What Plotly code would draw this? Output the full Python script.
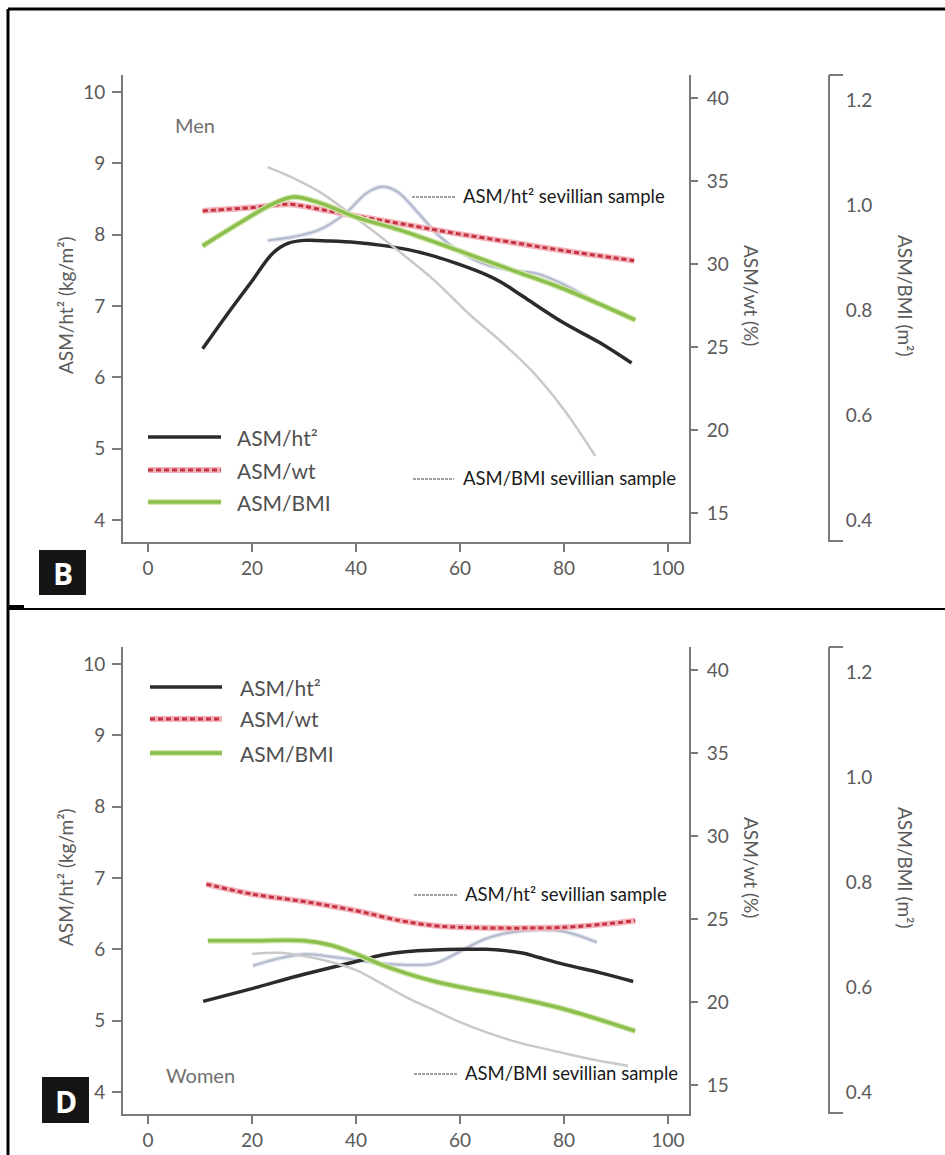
import plotly.graph_objects as go

# ---------------- DATA ----------------
# Men (panel B)
men_age_ht2 = [10.5, 15, 20, 24, 27, 30, 35, 40, 45, 50, 55, 60, 65, 68, 72, 80, 87, 93]
men_ht2 = [6.40, 6.86, 7.35, 7.74, 7.88, 7.92, 7.91, 7.89, 7.85, 7.79, 7.70, 7.58, 7.44, 7.33, 7.14, 6.76, 6.48, 6.20]
men_age_wt = [10.5, 20, 27, 33, 40, 50, 60, 70, 80, 93.5]
men_wt = [33.2, 33.4, 33.6, 33.3, 32.9, 32.35, 31.8, 31.3, 30.8, 30.2]
men_age_bmi = [10.5, 18, 24, 28, 33, 40, 48.5, 60, 70, 80, 93.7]
men_bmi = [0.922, 0.968, 1.002, 1.015, 1.004, 0.977, 0.952, 0.912, 0.876, 0.840, 0.781]
men_age_sev_ht2 = [23, 28, 33, 38, 42, 45, 48, 52, 56, 60, 65, 70, 75, 80, 85.5]
men_sev_ht2 = [7.92, 7.97, 8.07, 8.30, 8.58, 8.67, 8.60, 8.30, 7.98, 7.76, 7.58, 7.50, 7.45, 7.30, 7.08]
men_age_sev_bmi = [23, 28, 33, 40, 48, 55, 62, 68, 74, 80, 86]
men_sev_bmi = [1.072, 1.051, 1.025, 0.975, 0.914, 0.857, 0.790, 0.739, 0.682, 0.610, 0.522]

# Women (panel D)
women_age_ht2 = [10.6, 20, 30, 40, 45, 50, 55, 60, 65, 72, 75, 80, 87, 93.3]
women_ht2 = [5.27, 5.45, 5.65, 5.83, 5.92, 5.97, 5.99, 6.00, 6.00, 5.95, 5.89, 5.79, 5.67, 5.55]
women_age_wt = [11.2, 20, 30, 40, 48.5, 55, 60, 70, 80, 88, 93.7]
women_wt = [27.1, 26.5, 26.05, 25.5, 24.9, 24.6, 24.5, 24.45, 24.5, 24.7, 24.9]
women_age_bmi = [11.5, 20, 30, 35, 40, 45, 50, 55, 60, 70, 80, 93.7]
women_bmi = [0.688, 0.688, 0.688, 0.680, 0.663, 0.642, 0.625, 0.611, 0.600, 0.581, 0.558, 0.516]
women_age_sev_ht2 = [20.2, 25, 30, 35, 40, 45, 50, 55, 60, 65, 70, 75, 80, 86.3]
women_sev_ht2 = [5.77, 5.87, 5.93, 5.90, 5.85, 5.80, 5.78, 5.80, 5.97, 6.15, 6.24, 6.27, 6.25, 6.10]
women_age_sev_bmi = [20, 25, 30, 35, 40, 45, 50, 55, 60, 65, 71, 80, 86, 92.3]
women_sev_bmi = [0.663, 0.665, 0.659, 0.648, 0.632, 0.606, 0.579, 0.556, 0.533, 0.514, 0.495, 0.474, 0.461, 0.450]

x_ticks = [0, 20, 40, 60, 80, 100]
ht2_ticks = [4, 5, 6, 7, 8, 9, 10]
wt_ticks = [15, 20, 25, 30, 35, 40]
bmi_ticks = [0.4, 0.6, 0.8, 1.0, 1.2]
bmi_ticklabels = ["0.4", "0.6", "0.8", "1.0", "1.2"]

# ---------------- LAYOUT HELPERS ----------------
W, H = 945, 1155
def px(x):
    return x / W
def py(y):
    return 1 - y / H

FONT = "Lato"
AX = "#7a7a7a"
TXT = "#5a5a5a"

BLACK = "#2b2b2b"
RED_BG = "#f4b3ba"
RED_FG = "#c4323f"
GREEN = "#8cbf4d"
GREEN_BG = "#d3e8b0"
LGRAY = "#c9c9c9"
BGRAY = "#b3b9cc"
BGRAY_BG = "#e0e3ec"

fig = go.Figure()

panels = [
    dict(x="x", yl="y", yr="y2", yb="y3",
         ht2=(men_age_ht2, men_ht2), wt=(men_age_wt, men_wt), bmi=(men_age_bmi, men_bmi),
         sh=(men_age_sev_ht2, men_sev_ht2), sb=(men_age_sev_bmi, men_sev_bmi)),
    dict(x="x2", yl="y4", yr="y5", yb="y6",
         ht2=(women_age_ht2, women_ht2), wt=(women_age_wt, women_wt), bmi=(women_age_bmi, women_bmi),
         sh=(women_age_sev_ht2, women_sev_ht2), sb=(women_age_sev_bmi, women_sev_bmi)),
]

def add_line(xv, yv, xa, ya, color, width, dash="solid"):
    fig.add_trace(go.Scatter(x=xv, y=yv, xaxis=xa, yaxis=ya, mode="lines",
                             line=dict(color=color, width=width, dash=dash, shape="spline", smoothing=1.0),
                             showlegend=False, hoverinfo="skip"))

for p in panels:
    # sevillian reference curves (background)
    add_line(*p["sb"], p["x"], p["yb"], LGRAY, 2.5)
    add_line(*p["sh"], p["x"], p["yl"], BGRAY_BG, 4.5)
    add_line(*p["sh"], p["x"], p["yl"], BGRAY, 2)
    # main curves
    add_line(*p["wt"], p["x"], p["yr"], RED_BG, 6)
    add_line(*p["wt"], p["x"], p["yr"], RED_FG, 3, dash="5px,3px")
    add_line(*p["bmi"], p["x"], p["yb"], GREEN_BG, 6)
    add_line(*p["bmi"], p["x"], p["yb"], GREEN, 3.5)
    add_line(*p["ht2"], p["x"], p["yl"], BLACK, 3.5)

x_dom = [px(123), px(689)]
top_dom = [py(542), py(75)]
bot_dom = [py(1114), py(647)]

x_range = [-4.81, 104.04]
ht2_range = [3.692, 10.238]
wt_range = [13.253, 41.386]
bmi_range = [0.3581, 1.2476]

tickfont = dict(family=FONT, size=19, color=TXT)

def xaxis(anchor):
    return dict(domain=x_dom, range=x_range, anchor=anchor, tickvals=x_ticks,
                showline=True, linecolor=AX, linewidth=2, ticks="outside", ticklen=8,
                tickwidth=2, tickcolor=AX, showgrid=False, zeroline=False,
                tickfont=tickfont, ticklabelstandoff=0)

def yleft(dom, anchor):
    return dict(domain=dom, range=ht2_range, anchor=anchor, tickvals=ht2_ticks,
                showline=True, linecolor=AX, linewidth=2, ticks="outside", ticklen=9,
                tickwidth=2, tickcolor=AX, showgrid=False, zeroline=False,
                tickfont=tickfont, ticklabelstandoff=3)

def yright(over, anchor):
    return dict(overlaying=over, side="right", anchor=anchor, range=wt_range, tickvals=wt_ticks,
                showline=True, linecolor=AX, linewidth=2, ticks="outside", ticklen=7,
                tickwidth=2, tickcolor=AX, showgrid=False, zeroline=False,
                tickfont=tickfont, ticklabelstandoff=5)

def ybmi(over):
    return dict(overlaying=over, side="right", anchor="free", position=px(829), range=bmi_range,
                tickvals=bmi_ticks, ticktext=bmi_ticklabels,
                showline=True, linecolor=AX, linewidth=2, ticks="", showgrid=False, zeroline=False,
                tickfont=tickfont, ticklabelstandoff=12)

fig.update_layout(
    width=W, height=H, margin=dict(l=0, r=0, t=0, b=0),
    paper_bgcolor="white", plot_bgcolor="white", showlegend=False,
    xaxis=xaxis("y"), xaxis2=xaxis("y4"),
    yaxis=yleft(top_dom, "x"), yaxis2=yright("y", "x"), yaxis3=ybmi("y"),
    yaxis4=yleft(bot_dom, "x2"), yaxis5=yright("y4", "x2"), yaxis6=ybmi("y4"),
)

shapes = []
annots = []

def line(x0, y0, x1, y1, color, width, dash="solid"):
    shapes.append(dict(type="line", xref="paper", yref="paper", x0=px(x0), y0=py(y0),
                       x1=px(x1), y1=py(y1), line=dict(color=color, width=width, dash=dash)))

def text(x, y, s, size=19, color=TXT, xanchor="center", angle=0, family=FONT, bold=False):
    annots.append(dict(x=px(x), y=py(y), xref="paper", yref="paper", text=("<b>%s</b>" % s if bold else s),
                       showarrow=False, xanchor=xanchor, yanchor="middle", textangle=angle,
                       font=dict(family=family, size=size, color=color)))

# outer frame
line(8, 9, 945, 9, "black", 3)
line(8, 9, 8, 1155, "black", 3)
line(7, 609, 945, 609, "black", 2)
line(7, 606.5, 24, 606.5, "black", 3)

for off, legend_rows, legend_x, lbl, lbl_pos, box in [
    (0, [437, 470, 502], (148, 221, 235), "Men", (195, 125), (39, 550, 86, 595, "B")),
    (572, [687, 719, 753], (150, 222, 238), "Women", (200, 1075), (42, 1077, 89, 1123, "D")),
]:
    # BMI bracket caps
    line(829, 75 + off, 843, 75 + off, AX, 2)
    line(829, 541 + off, 843, 541 + off, AX, 2)
    # axis titles
    text(65, 305 + off, "ASM/ht² (kg/m²)", angle=-90)
    text(752, 295 + off, "ASM/wt (%)", angle=90)
    text(906, 295 + off, "ASM/BMI (m²)", angle=90)
    # legend
    x0, x1, xt = legend_x
    r1, r2, r3 = legend_rows
    line(x0, r1, x1, r1, BLACK, 3.5)
    line(x0, r2, x1, r2, RED_BG, 6)
    line(x0, r2, x1, r2, RED_FG, 3, "5px,3px")
    line(x0, r3, x1, r3, GREEN_BG, 6)
    line(x0, r3, x1, r3, GREEN, 3.5)
    text(xt, r1, "ASM/ht²", size=21, color="#505050", xanchor="left")
    text(xt, r2, "ASM/wt", size=21, color="#505050", xanchor="left")
    text(xt, r3, "ASM/BMI", size=21, color="#505050", xanchor="left")
    # panel label
    text(lbl_pos[0], lbl_pos[1], lbl, size=20, color="#707070")
    bx0, by0, bx1, by1, letter = box
    shapes.append(dict(type="rect", xref="paper", yref="paper", x0=px(bx0), y0=py(by1), x1=px(bx1), y1=py(by0),
                       fillcolor="#151515", line=dict(width=0)))
    text((bx0 + bx1) / 2, (by0 + by1) / 2 + 1, letter, size=30, color="white", family="Open Sans", bold=True)

# sevillian annotations
for (y, s, dx0, dx1, tx) in [
    (196, "ASM/ht² sevillian sample", 412, 455, 461),
    (478, "ASM/BMI sevillian sample", 413, 454, 461),
    (894, "ASM/ht² sevillian sample", 414, 457, 463),
    (1073, "ASM/BMI sevillian sample", 414, 457, 463),
]:
    line(dx0, y + 1, dx1, y + 1, "#444", 1, "3px,1px")
    text(tx, y, s, size=18.5, color="#1a1a1a", xanchor="left")

fig.update_layout(shapes=shapes, annotations=annots)
fig.write_html("out.html")
